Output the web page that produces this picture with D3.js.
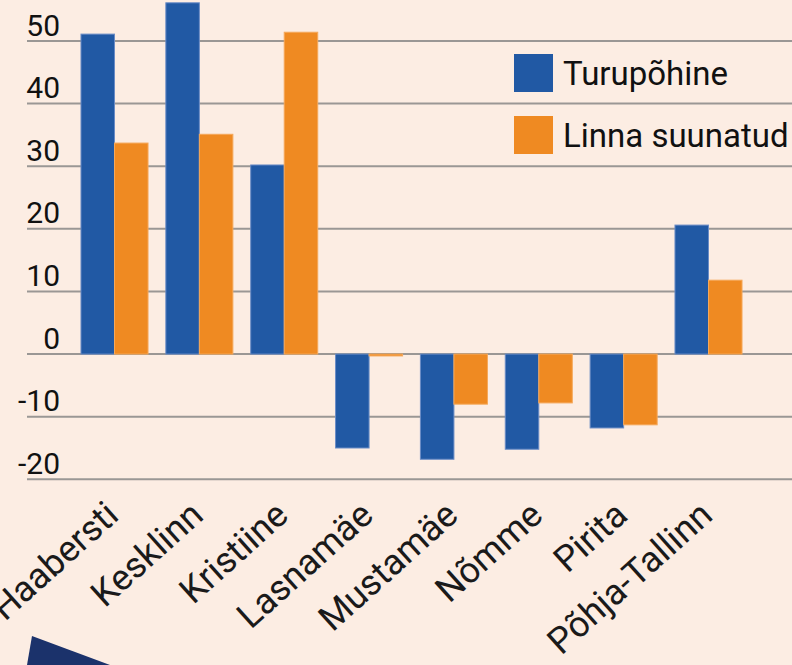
<!DOCTYPE html>
<html><head><meta charset="utf-8">
<script src="https://cdn.jsdelivr.net/npm/d3@7"></script>
<style>
html,body{margin:0;padding:0;background:#fcede3;}
svg{display:block;font-family:Roboto, "Noto Sans", sans-serif;}
</style></head>
<body>
<svg id="c" width="792" height="665"></svg>
<script>
const categories = ["Haabersti","Kesklinn","Kristiine","Lasnamäe","Mustamäe","Nõmme","Pirita","Põhja-Tallinn"];
const seriesNames = ["Turupõhine","Linna suunatud"];
const turupohine = [51.1, 56.1, 30.2, -15.0, -16.8, -15.2, -11.8, 20.6];
const linnaSuunatud = [33.7, 35.1, 51.4, -0.3, -8.0, -7.8, -11.3, 11.8];
const yTicks = [-20,-10,0,10,20,30,40,50];
const colors = ["#2159a4","#ef8a22"];

const svg = d3.select("#c");
svg.append("rect").attr("width",792).attr("height",665).attr("fill","#fcede3");

const y = d3.scaleLinear().domain([-20,50]).range([479.3,41]);
const x = d3.scaleBand().domain(categories).range([72.5,750.5]).paddingInner(0.21).paddingOuter(0.1);
const xs = d3.scaleBand().domain(seriesNames).range([0,x.bandwidth()]);

// grid
const gGrid = svg.append("g");
gGrid.selectAll("line").data(yTicks).join("line")
  .attr("x1",27).attr("x2",792)
  .attr("y1",d=>y(d)).attr("y2",d=>y(d))
  .attr("stroke","#9a9795").attr("stroke-width",2);

const yAxis = d3.axisLeft(y).tickValues(yTicks).tickSize(0).tickFormat(d=>String(d));
const gy = svg.append("g").attr("transform","translate(60,0)").call(yAxis);
gy.select(".domain").remove();
gy.selectAll("text").attr("font-size",30).attr("fill","#111")
  .attr("dy",null).attr("y",-6).attr("x",0).attr("font-family","Roboto");

// bars
const data = categories.map((c,i)=>({cat:c, vals:[turupohine[i], linnaSuunatud[i]]}));
const groups = svg.append("g").selectAll("g").data(data).join("g")
  .attr("transform",d=>`translate(${x(d.cat)},0)`);
groups.selectAll("rect").data(d=>d.vals.map((v,j)=>({v, s:seriesNames[j], j})))
  .join("rect")
  .attr("x",d=>xs(d.s))
  .attr("width",xs.bandwidth())
  .attr("y",d=>Math.min(y(d.v),y(0)))
  .attr("height",d=>Math.abs(y(d.v)-y(0)))
  .attr("fill",d=>colors[d.j])
  .attr("stroke",d=>d.j===0?"#6a8cc6":"#f5a85a")
  .attr("stroke-width",1);

// x labels
const gx = svg.append("g").attr("transform","translate(0,495)")
  .call(d3.axisBottom(x).tickSize(0));
gx.select(".domain").remove();
gx.selectAll("text")
  .attr("font-size",36).attr("fill","#1a1a1a").attr("font-family","Roboto")
  .attr("text-anchor","end")
  .attr("dy",null).attr("y",0)
  .attr("transform","translate(6,23) rotate(-42)");

// legend
const lg = svg.append("g");
seriesNames.forEach((s,i)=>{
  const gy0 = 54 + i*62;
  lg.append("rect").attr("x",514).attr("y",gy0).attr("width",39).attr("height",38).attr("fill",colors[i]);
  lg.append("text").attr("x",563).attr("y",gy0+31).attr("font-size",33).attr("fill","#111").text(s);
});

// decorative triangle
svg.append("path").attr("d","M32,636 L110,665 L27,665 Z").attr("fill","#1b326b");
</script>
</body></html>
